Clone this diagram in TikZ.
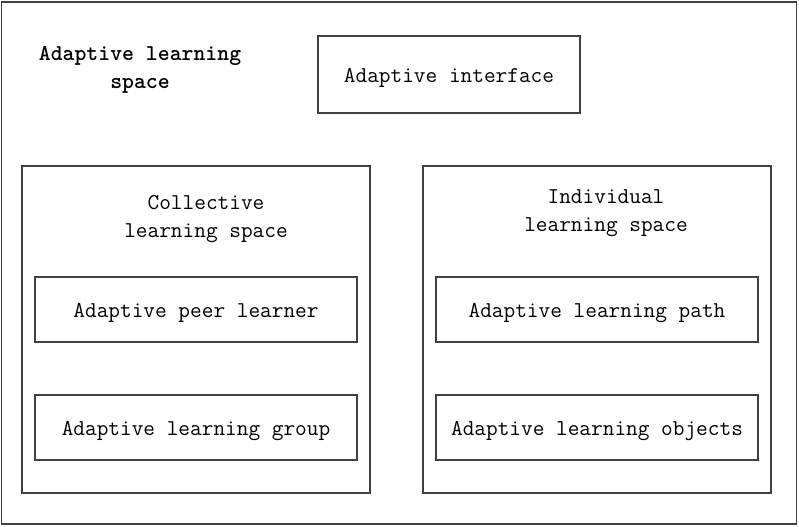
\documentclass[tikz,border=0pt]{standalone}
\usetikzlibrary{positioning}
\begin{document}
\begin{tikzpicture}[x=0.75pt,y=-0.75pt,node distance=88.5pt]
\tikzstyle{every node}=[font=\ttfamily\fontsize{17}{21}\selectfont, inner sep=0pt, outer sep=0pt]
\tikzstyle{frame}=[draw=black!75, line width=0.8pt, rectangle]
\tikzstyle{item}=[frame, text height=12pt, text depth=0pt, minimum width=241.5pt, minimum height=48.75pt]
\tikzstyle{subspace}=[frame, minimum width=261pt, minimum height=245.25pt]
\tikzstyle{title}=[align=center]
\useasboundingbox (0,0) rectangle (799,526);
\node[frame, minimum width=596pt, minimum height=391.5pt] (all) at (399,263) {};
\node[title, font=\ttfamily\bfseries\fontsize{17}{21}\selectfont] (alltitle) at (140,70) {Adaptive learning\\space};
\node[item, minimum width=196.5pt, minimum height=57.75pt] (iface) at (449,74.5) {Adaptive interface};
\node[subspace] (coll) at (196,329.5) {};
\node[subspace][right=39.75pt of coll] (indiv) {};
\node[title] (colltitle) at (206,219.5) {Collective\\learning space};
\node[title] (indivtitle) at (606,213.5) {Individual\\learning space};
\node[item] (peer) at (196,309.5) {Adaptive peer learner};
\node[item][below of=peer] (group) {Adaptive learning group};
\node[item] (path) at (597,309.5) {Adaptive learning path};
\node[item][below of=path] (objects) {Adaptive learning objects};
\end{tikzpicture}
\end{document}
